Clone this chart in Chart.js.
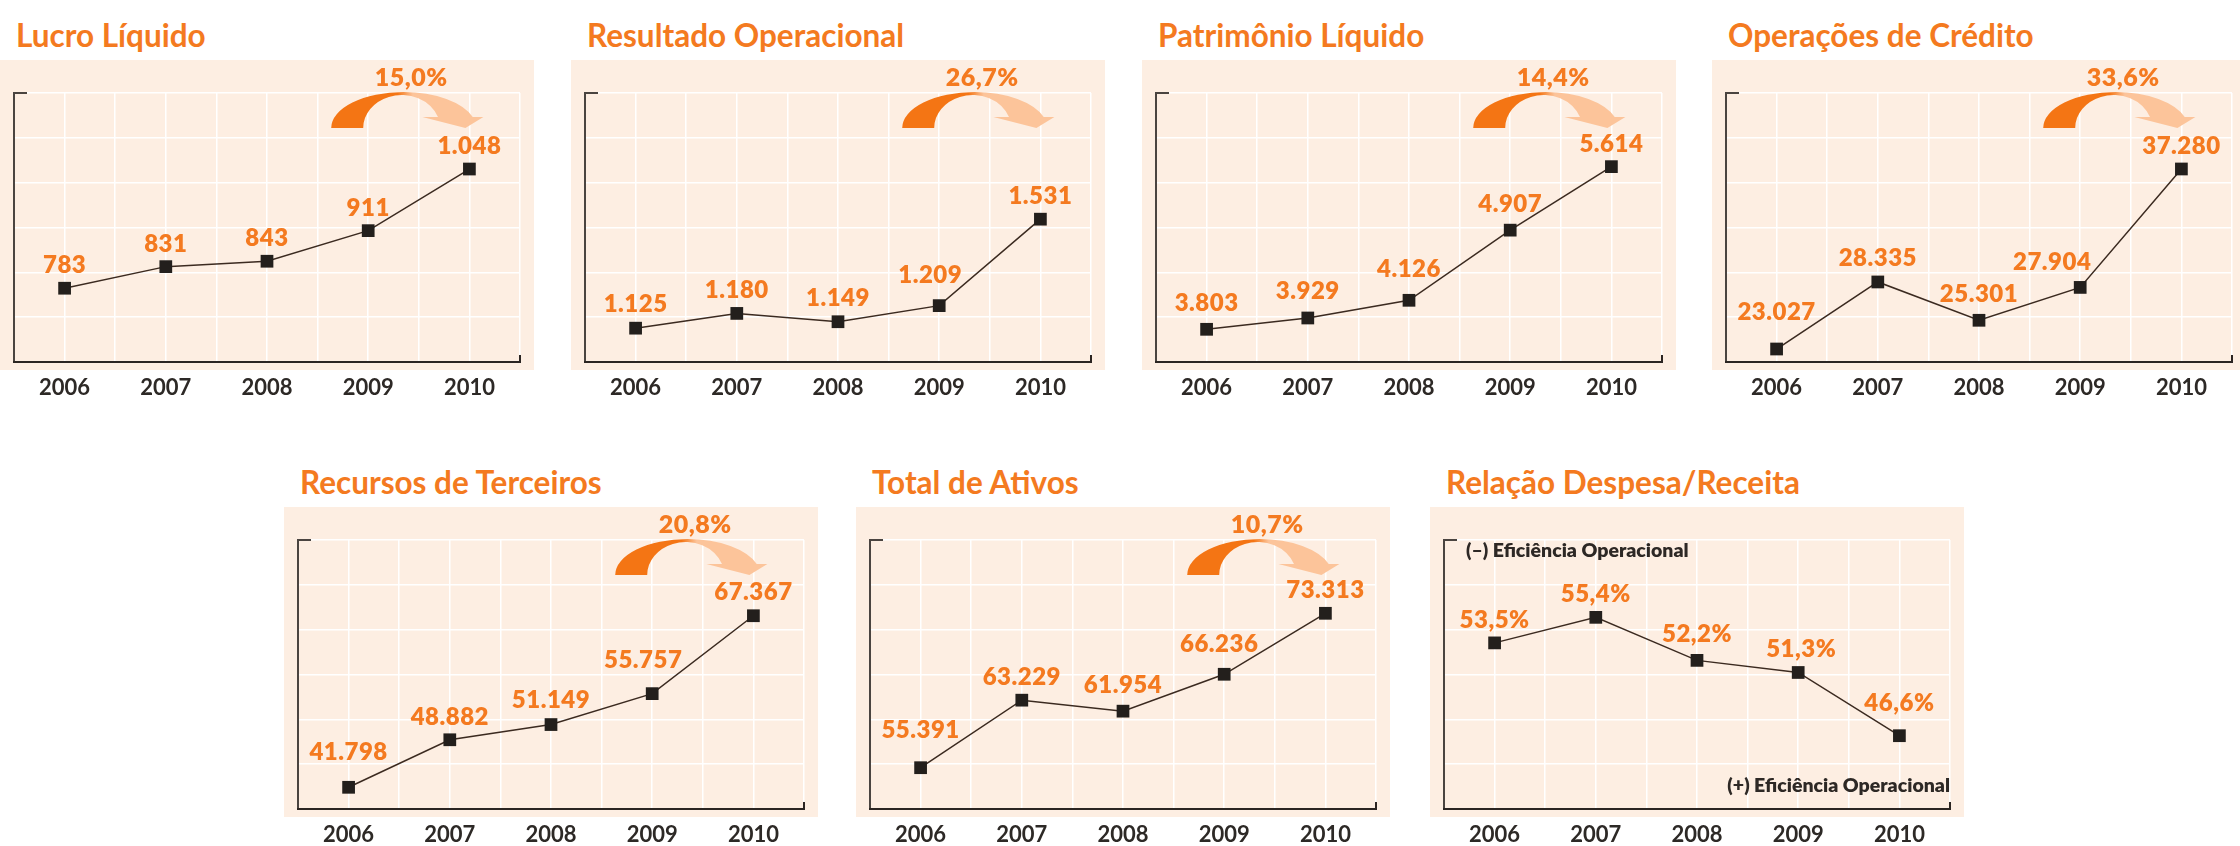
<!DOCTYPE html>
<html lang="pt-BR">
<head>
<meta charset="utf-8">
<script src="https://cdn.jsdelivr.net/npm/chart.js@4.4.1/dist/chart.umd.min.js"></script>
<style>
  html, body { margin: 0; padding: 0; background: #fff; width: 2240px; height: 846px; overflow: hidden; }
  .title { position: absolute; color: #f47a20; font: 700 31.5px Lato, sans-serif; line-height: 31px; white-space: nowrap; }
  canvas { position: absolute; }
</style>
</head>
<body>
<script>
// --- Data (R$ milhões, exceto relação despesa/receita) ---
const years = ['2006', '2007', '2008', '2009', '2010'];

const lucroLiquido         = [783, 831, 843, 911, 1048];
const resultadoOperacional = [1125, 1180, 1149, 1209, 1531];
const patrimonioLiquido    = [3803, 3929, 4126, 4907, 5614];
const operacoesCredito     = [23027, 28335, 25301, 27904, 37280];
const recursosTerceiros    = [41798, 48882, 51149, 55757, 67367];
const totalAtivos          = [55391, 63229, 61954, 66236, 73313];
const despesaReceita       = [53.5, 55.4, 52.2, 51.3, 46.6];

const titles = ['Lucro Líquido', 'Resultado Operacional', 'Patrimônio Líquido', 'Operações de Crédito',
                'Recursos de Terceiros', 'Total de Ativos', 'Relação Despesa/Receita'];
const growth = [15.0, 26.7, 14.4, 33.6, 20.8, 10.7, null]; // 2010 vs 2009, %

// --- Panel layout ---
const ORANGE = '#f47a20';
const BG     = '#fdeee2';
const panels = [
  { data: lucroLiquido,         left: 0,    top: 60,  yMin: 619,   yMax: 1217,  lift: [0, 0, 0, 0, 0],  dx: [0, 0, 0, 0, 0] },
  { data: resultadoOperacional, left: 571,  top: 60,  yMin: 999,   yMax: 2001,  lift: [1, 0, 1, 8, 0],  dx: [0, 0, 0, -9, 0] },
  { data: patrimonioLiquido,    left: 1142, top: 60,  yMin: 3439,  yMax: 6434,  lift: [3, 4, 8, 3, 0],  dx: [0, 0, 0, 0, 0] },
  { data: operacoesCredito,     left: 1712, top: 60,  yMin: 21998, yMax: 43296, lift: [14, 1, 3, 2, 0], dx: [0, 0, 0, -28, 0] },
  { data: recursosTerceiros,    left: 284,  top: 507, yMin: 38564, yMax: 78653, lift: [12, 0, 2, 11, 1], dx: [0, 0, 0, -9, 0] },
  { data: totalAtivos,          left: 856,  top: 507, yMin: 50597, yMax: 81822, lift: [15, 0, 3, 7, 0], dx: [0, 0, 0, -5, 0] },
  { data: despesaReceita,       left: 1430, top: 507, yMin: 41.15, yMax: 61.15, lift: [0, 0, 3, 0, 10], dx: [0, 0, 0, 3, 0], pct: true },
];

const fmtInt = v => String(v).replace(/\B(?=(\d{3})+(?!\d))/g, '.');
const fmtPct = v => v.toFixed(1).replace('.', ',') + '%';

// --- Plugins ---
const panelBg = {
  id: 'panelBg',
  beforeDraw(chart) {
    const { ctx, width } = chart;
    ctx.save();
    ctx.fillStyle = BG;
    ctx.fillRect(0, 0, width, 310);
    ctx.restore();
  },
};

const frame = {
  id: 'frame',
  beforeDatasetsDraw(chart) {
    const { ctx, chartArea: a } = chart;
    ctx.save();
    ctx.lineWidth = 2;
    ctx.strokeStyle = '#4a4440';
    ctx.beginPath();
    ctx.moveTo(a.left + 13, a.top);
    ctx.lineTo(a.left, a.top);
    ctx.lineTo(a.left, a.bottom);
    ctx.stroke();
    ctx.strokeStyle = '#2b2522';
    ctx.beginPath();
    ctx.moveTo(a.left - 1, a.bottom);
    ctx.lineTo(a.right, a.bottom);
    ctx.lineTo(a.right, a.bottom - 7);
    ctx.stroke();
    ctx.restore();
  },
};

const growthArrow = {
  id: 'growthArrow',
  afterDatasetsDraw(chart, args, opts) {
    if (opts.value == null) return;
    const { ctx, chartArea: a, scales: { x } } = chart;
    const x9 = x.getPixelForValue(7), x10 = x.getPixelForValue(9);
    const cy = a.top + 35, hy = a.top + 24;
    const ocx = x9 + 35.5, orx = 72.5, ory = 36;
    const icx = x9 + 33.5, irx = 38.5, iry = 33;
    const oa = 2 * Math.PI - Math.asin((cy - hy) / ory);
    const ia = 2 * Math.PI - Math.asin((cy - hy) / iry);
    const ix = icx + irx * Math.cos(ia);

    const x0 = ocx - orx, x1 = x10 + 14;
    const peak = (ocx - x0) / (x1 - x0);
    const g = ctx.createLinearGradient(x0, 0, x1, 0);
    g.addColorStop(0, '#f47514');
    g.addColorStop(peak - 0.04, '#f47514');
    g.addColorStop(peak + 0.06, '#fcc49a');
    g.addColorStop(1, '#fcc49a');

    ctx.save();
    ctx.fillStyle = g;
    ctx.beginPath();
    ctx.ellipse(ocx, cy, orx, ory, 0, Math.PI, oa, false);
    ctx.lineTo(x10 + 14, hy);
    ctx.lineTo(x10 - 4, cy);
    ctx.lineTo(x10 - 47, hy);
    ctx.lineTo(ix, hy);
    ctx.ellipse(icx, cy, irx, iry, 0, ia, Math.PI, true);
    ctx.closePath();
    ctx.fill();

    ctx.fillStyle = ORANGE;
    ctx.font = '800 25px Lato';
    ctx.letterSpacing = '0.5px';
    ctx.textAlign = 'center';
    ctx.textBaseline = 'alphabetic';
    ctx.fillText(fmtPct(opts.value), x9 + 43, a.top - 7);
    ctx.restore();
  },
};

const pointLabels = {
  id: 'pointLabels',
  afterDatasetsDraw(chart, args, opts) {
    const { ctx } = chart;
    const meta = chart.getDatasetMeta(0);
    const vals = chart.data.datasets[0].data;
    ctx.save();
    ctx.fillStyle = ORANGE;
    ctx.font = '800 24px Lato';
    ctx.letterSpacing = '0.5px';
    ctx.textAlign = 'center';
    ctx.textBaseline = 'alphabetic';
    meta.data.forEach((pt, i) => {
      const txt = opts.pct ? fmtPct(vals[i].y) : fmtInt(vals[i].y);
      ctx.fillText(txt, pt.x + opts.dx[i], pt.y - 15 - opts.lift[i]);
    });
    ctx.restore();
  },
};

const efficiencyNotes = {
  id: 'efficiencyNotes',
  afterDatasetsDraw(chart, args, opts) {
    if (!opts.show) return;
    const { ctx, chartArea: a } = chart;
    ctx.save();
    ctx.fillStyle = '#2d2825';
    ctx.font = '800 19.5px Lato';
    ctx.textBaseline = 'alphabetic';
    ctx.textAlign = 'left';
    ctx.fillText('(–) Eficiência Operacional', a.left + 22, a.top + 17);
    ctx.textAlign = 'right';
    ctx.fillText('(+) Eficiência Operacional', a.right, a.bottom - 17);
    ctx.restore();
  },
};

// --- Build panels ---
panels.forEach((p, k) => {
  const t = document.createElement('div');
  t.className = 'title';
  t.textContent = titles[k];
  t.style.left = (p.left + 16) + 'px';
  t.style.top  = (p.top - 40) + 'px';
  document.body.appendChild(t);

  const cv = document.createElement('canvas');
  cv.width = 534; cv.height = 339;
  cv.style.left = p.left + 'px';
  cv.style.top  = p.top + 'px';
  cv.style.width = '534px'; cv.style.height = '339px';
  document.body.appendChild(cv);

  new Chart(cv, {
    type: 'line',
    data: {
      datasets: [{
        data: p.data.map((v, i) => ({ x: 2 * i + 1, y: v })),
        borderColor: '#3b2a20', borderWidth: 1.5, tension: 0,
        pointStyle: 'rect', pointRadius: 9, pointBorderWidth: 0,
        pointBackgroundColor: '#231f1c', pointBorderColor: '#231f1c',
      }],
    },
    options: {
      responsive: false, animation: false, devicePixelRatio: 1,
      layout: { padding: { left: 14, right: 14, top: 33, bottom: 0 } },
      plugins: {
        legend: { display: false }, tooltip: { enabled: false },
        growthArrow: { value: growth[k] },
        pointLabels: { lift: p.lift, dx: p.dx, pct: !!p.pct },
        efficiencyNotes: { show: !!p.pct },
      },
      scales: {
        x: {
          type: 'linear', min: 0, max: 10,
          afterFit: s => { s.height = 37; },
          ticks: {
            stepSize: 1, autoSkip: false, maxRotation: 0, padding: 13,
            color: '#2d2926', font: { family: 'Lato', size: 22, weight: 'bold' },
            callback: v => (v % 2 === 1 ? years[(v - 1) / 2] : ''),
          },
          grid: { color: '#ffffff', lineWidth: 1.5, drawTicks: false },
          border: { display: false },
        },
        y: { display: false, min: p.yMin, max: p.yMax },
        yg: {
          type: 'linear', position: 'left', min: 0, max: 6,
          afterFit: s => { s.width = 0; },
          ticks: { stepSize: 1, display: false },
          grid: { color: '#ffffff', lineWidth: 1.5, drawTicks: false },
          border: { display: false },
        },
      },
    },
    plugins: [panelBg, frame, growthArrow, pointLabels, efficiencyNotes],
  });
});
</script>
</body>
</html>
